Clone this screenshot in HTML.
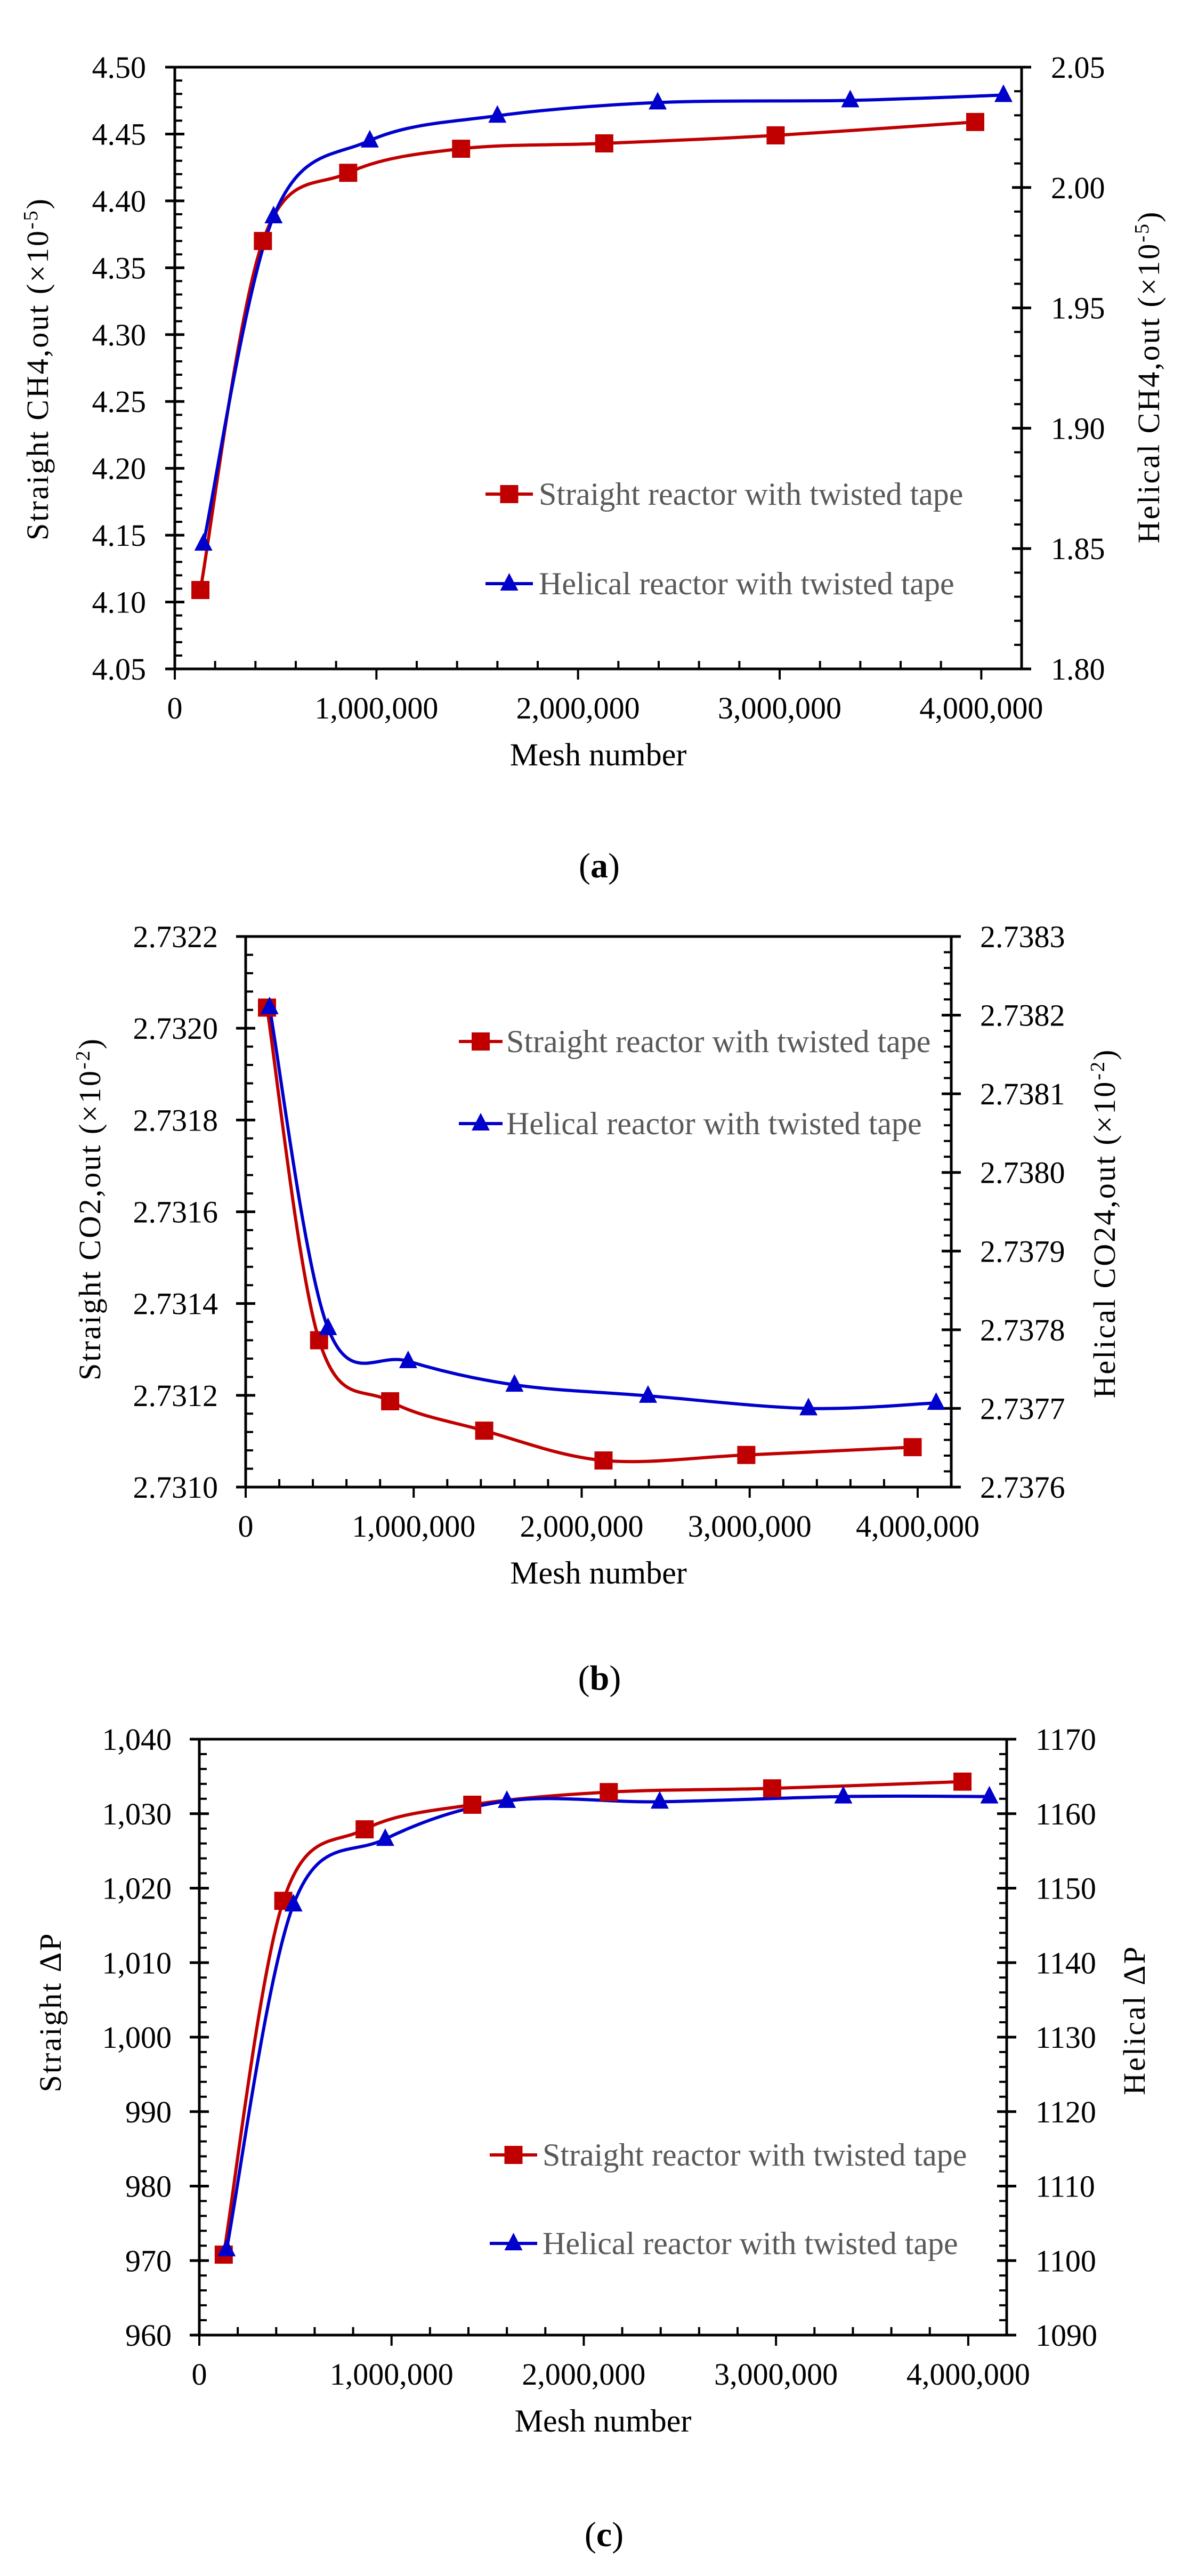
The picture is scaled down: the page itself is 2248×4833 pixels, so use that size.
<!DOCTYPE html>
<html><head><meta charset="utf-8"><style>
html,body{margin:0;padding:0;background:#fff;}
svg{display:block;}
text{font-family:"Liberation Serif",serif;}
</style></head><body>
<svg id="s" width="2248" height="4833" viewBox="0 0 2248 4833" xmlns="http://www.w3.org/2000/svg"></svg>
<script>
const S=document.getElementById('s');let h='';
const RED='#C00000',BLUE='#0000CC';
function fmt(v){return v.toLocaleString('en-US');}
function path(pts){
 let d='M'+pts[0][0]+','+pts[0][1];
 for(let i=0;i<pts.length-1;i++){
  const p0=pts[Math.max(0,i-1)],p1=pts[i],p2=pts[i+1],p3=pts[Math.min(pts.length-1,i+2)];
  const c1=[p1[0]+(p2[0]-p0[0])/6,p1[1]+(p2[1]-p0[1])/6];
  const c2=[p2[0]-(p3[0]-p1[0])/6,p2[1]-(p3[1]-p1[1])/6];
  d+=' C'+c1+' '+c2+' '+p2;
 }
 return d;
}
function chart(c){
 const {L,R,T,B,ymin,ymax,ystep,ysub,rmin,rmax,rstep,rsub,ldec,rdec,comma}=c;
 const X=m=>L+m/4.2e6*(R-L);
 const YL=v=>B-(v-ymin)/(ymax-ymin)*(B-T);
 const YR=v=>B-(v-rmin)/(rmax-rmin)*(B-T);
 h+=`<rect x="${L}" y="${T}" width="${R-L}" height="${B-T}" fill="none" stroke="#000" stroke-width="5"/>`;
 const nl=Math.round((ymax-ymin)/ystep);
 for(let i=0;i<=nl;i++){
  const v=ymin+i*ystep,y=YL(v);
  h+=`<line x1="${L-18}" y1="${y}" x2="${L+18}" y2="${y}" stroke="#000" stroke-width="5"/>`;
  const lab=comma?fmt(Math.round(v)):v.toFixed(ldec);
  h+=`<text x="${c.ll}" y="${y+20}" font-size="58" text-anchor="end">${lab}</text>`;
  if(i<nl)for(let k=1;k<ysub;k++){const yy=y-k*(B-T)/nl/ysub;h+=`<line x1="${L}" y1="${yy}" x2="${L+14}" y2="${yy}" stroke="#000" stroke-width="4"/>`;}
 }
 const nr=Math.round((rmax-rmin)/rstep);
 for(let i=0;i<=nr;i++){
  const v=rmin+i*rstep,y=YR(v);
  h+=`<line x1="${R-18}" y1="${y}" x2="${R+18}" y2="${y}" stroke="#000" stroke-width="5"/>`;
  h+=`<text x="${c.rl}" y="${y+20}" font-size="58">${v.toFixed(rdec)}</text>`;
  if(i<nr)for(let k=1;k<rsub;k++){const yy=y-k*(B-T)/nr/rsub;h+=`<line x1="${R-14}" y1="${yy}" x2="${R}" y2="${yy}" stroke="#000" stroke-width="4"/>`;}
 }
 for(let m=0;m<=4.2e6;m+=2e5){
  const x=X(m);
  if(m%1e6===0){h+=`<line x1="${x}" y1="${B}" x2="${x}" y2="${B+20}" stroke="#000" stroke-width="4"/>`;
   h+=`<text x="${x}" y="${B+93}" font-size="58" text-anchor="middle">${fmt(m)}</text>`;}
  else h+=`<line x1="${x}" y1="${B-15}" x2="${x}" y2="${B}" stroke="#000" stroke-width="4"/>`;
 }
 h+=`<text x="${(L+R)/2}" y="${B+181}" font-size="60" text-anchor="middle">Mesh number</text>`;
 h+=`<text x="${(L+R)/2+2}" y="${c.cap}" font-size="66" text-anchor="middle">(<tspan font-weight="bold">${c.letter}</tspan>)</text>`;
 h+=`<text transform="translate(${c.lt[0]},${c.lt[1]}) rotate(-90)" font-size="58" letter-spacing="3" text-anchor="middle">${c.ltitle}</text>`;
 h+=`<text transform="translate(${c.rt[0]},${c.rt[1]}) rotate(-90)" font-size="58" letter-spacing="3" text-anchor="middle">${c.rtitle}</text>`;
 const rp=c.red.map(p=>[X(p[0]),YL(p[1])]),bp=c.blue.map(p=>[X(p[0]),YR(p[1])]);
 h+=`<path d="${path(rp)}" fill="none" stroke="${RED}" stroke-width="6"/>`;
 h+=`<path d="${path(bp)}" fill="none" stroke="${BLUE}" stroke-width="6"/>`;
 rp.forEach(p=>h+=`<rect x="${p[0]-17}" y="${p[1]-17}" width="34" height="34" fill="${RED}"/>`);
 bp.forEach(p=>h+=`<polygon points="${p[0]},${p[1]-20} ${p[0]+17},${p[1]+13} ${p[0]-17},${p[1]+13}" fill="${BLUE}"/>`);
 const g=c.leg;
 h+=`<line x1="${g.x1}" y1="${g.y1}" x2="${g.x2}" y2="${g.y1}" stroke="${RED}" stroke-width="6"/>`;
 h+=`<rect x="${(g.x1+g.x2)/2-17}" y="${g.y1-17}" width="34" height="34" fill="${RED}"/>`;
 h+=`<text x="${g.tx}" y="${g.y1+20}" font-size="60" fill="#595959">Straight reactor with twisted tape</text>`;
 const m=(g.x1+g.x2)/2;
 h+=`<line x1="${g.x1}" y1="${g.y2}" x2="${g.x2}" y2="${g.y2}" stroke="${BLUE}" stroke-width="6"/>`;
 h+=`<polygon points="${m},${g.y2-20} ${m+17},${g.y2+13} ${m-17},${g.y2+13}" fill="${BLUE}"/>`;
 h+=`<text x="${g.tx}" y="${g.y2+20}" font-size="60" fill="#595959">Helical reactor with twisted tape</text>`;
}
const rx=[127e3,437e3,860e3,1.42e6,2.13e6,2.98e6,3.97e6],bx=[142e3,490e3,967e3,1.6e6,2.395e6,3.35e6,4.11e6];
const z=(xs,ys)=>xs.map((x,i)=>[x,ys[i]]);
chart({L:328,R:1917,T:126,B:1255,ymin:4.05,ymax:4.5,ystep:0.05,ysub:5,rmin:1.8,rmax:2.05,rstep:0.05,rsub:5,ldec:2,rdec:2,
 ll:274,rl:1972,cap:1646,letter:'a',lt:[90,692],rt:[2175,707],
 ltitle:'Straight  CH4,out (×10<tspan dy="-20" font-size="38">-5</tspan><tspan dy="20">)</tspan>',
 rtitle:'Helical  CH4,out (×10<tspan dy="-20" font-size="38">-5</tspan><tspan dy="20">)</tspan>',
 red:z(rx,[4.109,4.37,4.421,4.439,4.443,4.449,4.459]),
 blue:z(bx,[1.852,1.988,2.0195,2.0298,2.0353,2.0362,2.0384]),
 leg:{x1:911,x2:1000,tx:1011,y1:927,y2:1095}});
chart({L:461,R:1785,T:1757,B:2790,ymin:2.731,ymax:2.7322,ystep:0.0002,ysub:5,rmin:2.7376,rmax:2.7383,rstep:0.0001,rsub:5,ldec:4,rdec:4,
 ll:409,rl:1839,cap:3170,letter:'b',lt:[188,2268],rt:[2092,2295],
 ltitle:'Straight  CO2,out (×10<tspan dy="-20" font-size="38">-2</tspan><tspan dy="20">)</tspan>',
 rtitle:'Helical  CO24,out (×10<tspan dy="-20" font-size="38">-2</tspan><tspan dy="20">)</tspan>',
 red:z(rx,[2.732045,2.73132,2.731187,2.731123,2.731058,2.73107,2.731087]),
 blue:z(bx,[2.73821,2.737802,2.73776,2.73773,2.737716,2.7377,2.737707]),
 leg:{x1:861,x2:943,tx:950,y1:1954,y2:2108}});
chart({L:374,R:1889,T:3263,B:4381,ymin:960,ymax:1040,ystep:10,ysub:5,rmin:1090,rmax:1170,rstep:10,rsub:5,ldec:0,rdec:0,comma:true,
 ll:322,rl:1943,cap:4777,letter:'c',lt:[114,3775],rt:[2148,3790],
 ltitle:'Straight  ΔP',rtitle:'Helical  ΔP',
 red:z(rx,[970.8,1018.3,1027.9,1031.2,1032.9,1033.4,1034.3]),
 blue:z(bx,[1101.5,1147.8,1156.6,1161.7,1161.6,1162.3,1162.3]),
 leg:{x1:919,x2:1008,tx:1018,y1:4043,y2:4209}});
S.innerHTML=h;
</script>
</body></html>
